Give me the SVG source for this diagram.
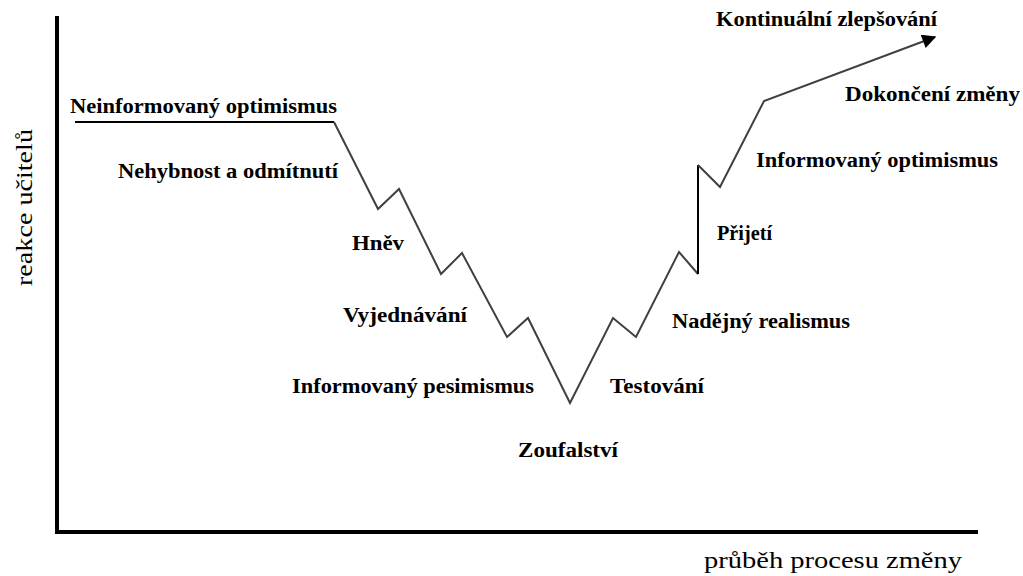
<svg xmlns="http://www.w3.org/2000/svg" width="1023" height="576" viewBox="0 0 1023 576">
<style>
.lbl{font-family:"Liberation Serif",serif;font-size:20px;font-weight:bold;fill:#000}
.ax{font-family:"Liberation Serif",serif;font-size:23px;fill:#000}
.axis{stroke:#000;stroke-width:4;fill:none}
.curve{stroke:#404040;stroke-width:2;fill:none;stroke-linejoin:miter}
.blk{stroke:#000;stroke-width:2;fill:none}
</style>
<defs>
<marker id="arr" viewBox="0 0 10 10" refX="9" refY="5" markerWidth="15" markerHeight="14" markerUnits="userSpaceOnUse" orient="auto">
<path d="M0,0 L10,5 L0,10 z" fill="#000"/>
</marker>
</defs>
<rect width="1023" height="576" fill="#fff"/>
<g id="axes">
<path class="axis" d="M57,16 V532 H978"/>
<text class="ax" transform="translate(32,286) rotate(-90)" textLength="157" lengthAdjust="spacingAndGlyphs">reakce učitelů</text>
<text class="ax" x="704" y="568" textLength="258" lengthAdjust="spacingAndGlyphs">průběh procesu změny</text>
</g>
<g id="connectors">
<path class="blk" d="M75,122 H334"/>
<path class="curve" d="M334,122 L378,209 L399,189 L441,274 L462,253 L507,337 L528,318 L570,403 L613,318 L636,337 L679,252 L698,274"/>
<path class="blk" d="M698,274 V165"/>
<path class="curve" d="M698,165 L720,187 L764,101 L935,37" marker-end="url(#arr)"/>
</g>
<g id="n1"><text class="lbl" x="70" y="113" textLength="267" lengthAdjust="spacingAndGlyphs">Neinformovaný optimismus</text></g>
<g id="n2"><text class="lbl" x="118" y="178" textLength="220" lengthAdjust="spacingAndGlyphs">Nehybnost a odmítnutí</text></g>
<g id="n3"><text class="lbl" x="352" y="250" textLength="52" lengthAdjust="spacingAndGlyphs">Hněv</text></g>
<g id="n4"><text class="lbl" x="343" y="322" textLength="124" lengthAdjust="spacingAndGlyphs">Vyjednávání</text></g>
<g id="n5"><text class="lbl" x="292" y="393" textLength="242" lengthAdjust="spacingAndGlyphs">Informovaný pesimismus</text></g>
<g id="n6"><text class="lbl" x="518" y="457" textLength="100" lengthAdjust="spacingAndGlyphs">Zoufalství</text></g>
<g id="n7"><text class="lbl" x="610" y="393" textLength="94" lengthAdjust="spacingAndGlyphs">Testování</text></g>
<g id="n8"><text class="lbl" x="672" y="328" textLength="178" lengthAdjust="spacingAndGlyphs">Nadějný realismus</text></g>
<g id="n9"><text class="lbl" x="717" y="240" textLength="55" lengthAdjust="spacingAndGlyphs">Přijetí</text></g>
<g id="n10"><text class="lbl" x="756" y="167" textLength="242" lengthAdjust="spacingAndGlyphs">Informovaný optimismus</text></g>
<g id="n11"><text class="lbl" x="845" y="101" textLength="175" lengthAdjust="spacingAndGlyphs">Dokončení změny</text></g>
<g id="n12"><text class="lbl" x="716" y="26" textLength="221" lengthAdjust="spacingAndGlyphs">Kontinuální zlepšování</text></g>
</svg>
